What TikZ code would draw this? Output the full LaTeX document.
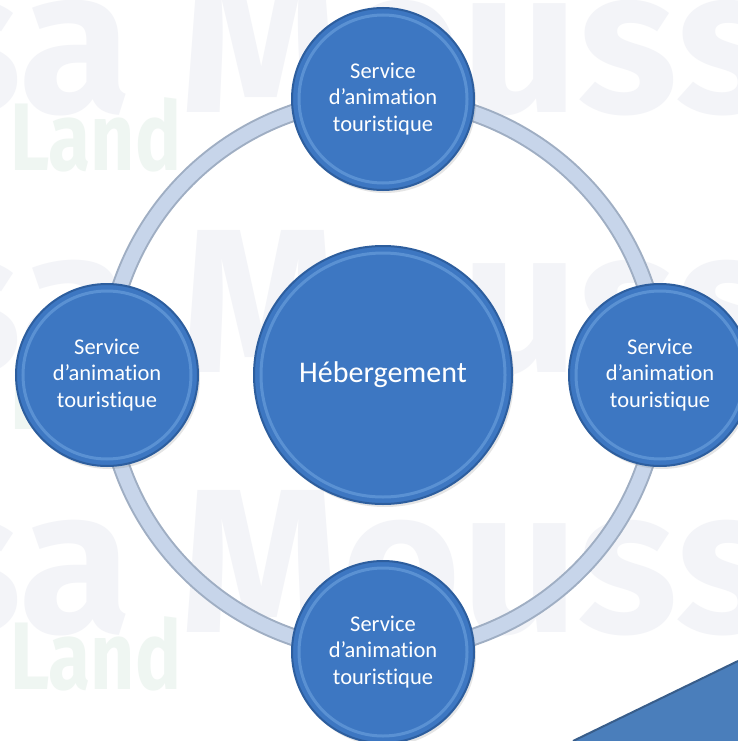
\documentclass[tikz,border=0pt]{standalone}
\usepackage{graphicx}
\usepackage{fontspec}
\setmainfont{Carlito}[Ligatures=NoCommon]
\newfontfamily\filigrane{Fira Sans}
\usetikzlibrary{shadows}
\definecolor{bleubulle}{HTML}{3D77C2}
\definecolor{bleurebord}{HTML}{2D5E9E}
\definecolor{bleureflet}{HTML}{6EA3DF}
\definecolor{anneaufond}{HTML}{C7D5EA}
\definecolor{anneaubord}{HTML}{9FAEC3}
\definecolor{filgris}{HTML}{F3F4F8}
\definecolor{filvert}{HTML}{EFF6F2}
\definecolor{coinbleu}{HTML}{4A7EBB}
\definecolor{coinbord}{HTML}{385D8A}
\newcommand\etroit[1]{\scalebox{.8}[1]{#1}}
\tikzset{
    bulle/.style={circle, inner sep=0pt, minimum size=2*#1, fill=bleubulle,
        draw=bleurebord, line width=2pt, text=white, align=center,
        drop shadow={opacity=.2, shadow xshift=2pt, shadow yshift=-3pt},
        path picture={\draw[bleureflet, line width=3pt, opacity=.6]
            (path picture bounding box.center) circle[radius=#1-7pt];}},
    service/.style={bulle=91pt, font=\fontsize{22.5}{26.5}\selectfont},
    mot/.style={anchor=base west, inner sep=0pt, text=filgris, font=\filigrane\bfseries\fontsize{205}{205}\selectfont},
    pays/.style={anchor=base west, inner sep=0pt, text=filvert, font=\filigrane\bfseries\fontsize{96}{96}\selectfont},
}

\begin{document}
\begin{tikzpicture}[x=1pt, y=-1pt]
    \useasboundingbox (0, 0) rectangle (738, 741);
    \fill[white] (0, 0) rectangle (738, 741);
    \foreach \y in {113, 372, 632} {
        \node[mot, anchor=base east] at (132, \y) {sa};
        \node[mot] at (180, \y) {Mouss};
        \node[pays] at (10, \y+57) {\etroit{Land}};
    }

    \coordinate (centre) at (383, 375);
    \draw[anneaubord, line width=18pt] (centre) circle[radius=277];
    \draw[anneaufond, line width=14pt] (centre) circle[radius=277];

    \node[bulle=129pt, font=\fontsize{30}{36}\selectfont] (heberg) at (centre) {Hébergement};
    \node[service] (anim-haut) at (383, 99) {Service\\d’animation\\touristique};
    \node[service] (anim-gauche) at (107, 375) {Service\\d’animation\\touristique};
    \node[service] (anim-droite) at (660, 375) {Service\\d’animation\\touristique};
    \node[service] (anim-bas) at (383, 652) {Service\\d’animation\\touristique};

    \fill[coinbleu] (573, 741) -- (738, 661) -- (738, 741) -- cycle;
    \draw[coinbord, line width=2pt] (573, 741) -- (738, 661);
\end{tikzpicture}
\end{document}
